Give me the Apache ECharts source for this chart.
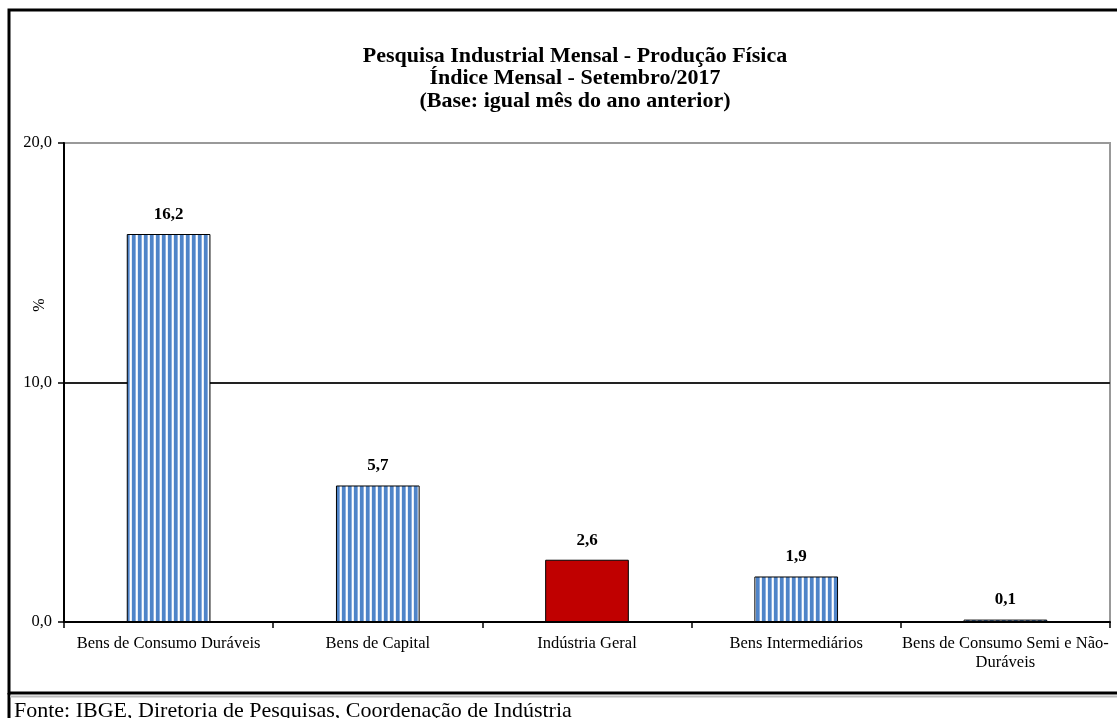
<!DOCTYPE html>
<html><head><meta charset="utf-8">
<script src="https://cdn.jsdelivr.net/npm/echarts@6/dist/echarts.min.js"></script>
<style>html,body{margin:0;padding:0;background:#fff;}#c{width:1117px;height:718px;}</style>
</head><body><div id="c"></div>
<script>
const categories = ['Bens de Consumo Duráveis', 'Bens de Capital', 'Indústria Geral', 'Bens Intermediários', 'Bens de Consumo Semi e Não-\nDuráveis'];
const values = [16.2, 5.7, 2.6, 1.9, 0.1];
const highlight = [false, false, true, false, false];
const yTicks = [0, 10, 20];
const titleLines = ['Pesquisa Industrial Mensal - Produção Física', 'Índice Mensal - Setembro/2017', '(Base: igual mês do ano anterior)'];
const sourceText = 'Fonte: IBGE, Diretoria de Pesquisas, Coordenação de Indústria';

const FONT = '"Liberation Serif", serif';
function stripes() {
  const c = document.createElement('canvas');
  c.width = 6; c.height = 4;
  const g = c.getContext('2d');
  g.fillStyle = '#ffffff'; g.fillRect(0, 0, 6, 4);
  g.fillStyle = '#4f84c8'; g.fillRect(0, 0, 3, 4);
  g.fillStyle = '#8cafdf'; g.fillRect(3, 0, 1, 4);
  g.fillStyle = '#e4ecf7'; g.fillRect(5, 0, 1, 4);
  return c;
}
const pat = stripes();
const chart = echarts.init(document.getElementById('c'));
chart.setOption({
  animation: false,
  title: {
    text: titleLines.join('\n'), left: 570, top: 40, textAlign: 'center',
    textStyle: { fontFamily: FONT, fontSize: 22, fontWeight: 'bold', color: '#000', lineHeight: 22.5 }
  },
  grid: { left: 64, right: 7, top: 143, bottom: 96, show: true, borderColor: '#999', borderWidth: 2 },
  xAxis: {
    type: 'category', data: categories,
    axisLine: { lineStyle: { color: '#000', width: 2 } },
    axisTick: { show: true, length: 6, lineStyle: { color: '#000', width: 1.5 } },
    axisLabel: { fontFamily: FONT, fontSize: 16.5, color: '#000', margin: 12, lineHeight: 19, interval: 0 }
  },
  yAxis: {
    type: 'value', min: yTicks[0], max: yTicks[yTicks.length - 1], interval: 10,
    axisLine: { show: true, lineStyle: { color: '#000', width: 2 } },
    axisTick: { show: true, length: 6, lineStyle: { color: '#000', width: 1.5 } },
    axisLabel: { fontFamily: FONT, fontSize: 16.5, color: '#000', margin: 12, formatter: v => v.toFixed(1).replace('.', ',') },
    splitLine: { show: true, lineStyle: { color: ['transparent', '#222', 'transparent'], width: 2 } }
  },
  series: [{
    type: 'bar', barWidth: '40%',
    data: values.map((v, i) => ({
      value: v,
      itemStyle: highlight[i] ? { color: '#c00000', borderColor: '#000', borderWidth: 1 } : { color: { image: pat, repeat: 'repeat' }, borderColor: '#000', borderWidth: 1 }
    })),
    label: { show: true, position: 'top', distance: 11, fontFamily: FONT, fontSize: 17, fontWeight: 'bold', color: '#000', formatter: p => p.value.toFixed(1).replace('.', ',') }
  }],
  graphic: [
    { type: 'rect', shape: { x: 9, y: 10, width: 1130, height: 683 }, style: { fill: 'none', stroke: '#000', lineWidth: 3 }, silent: true },
    { type: 'line', shape: { x1: 9, y1: 693, x2: 9, y2: 720 }, style: { stroke: '#000', lineWidth: 3 } },
    { type: 'line', shape: { x1: 10, y1: 696.5, x2: 1117, y2: 696.5 }, style: { stroke: '#bbb', lineWidth: 2 } },
    { type: 'text', left: 14, top: 700, style: { text: sourceText, fontFamily: FONT, fontSize: 22, fill: '#000' } },
    { type: 'text', x: 40, y: 305, rotation: Math.PI / 2, style: { text: '%', fontFamily: FONT, fontSize: 16, fill: '#000', align: 'center', verticalAlign: 'middle' } }
  ]
});
</script></body></html>
